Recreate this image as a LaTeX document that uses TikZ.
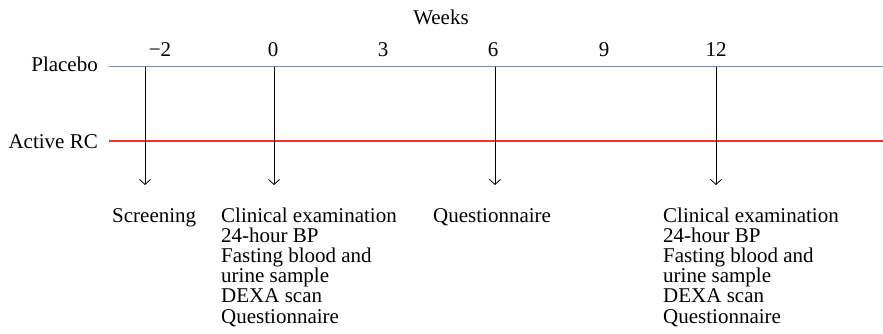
\documentclass[tikz,border=0pt]{standalone}
\usepackage{fontspec}
\setmainfont{Liberation Serif}
\usetikzlibrary{arrows.meta,positioning}
\definecolor{placeboBlue}{RGB}{98,142,204}
\definecolor{activeRed}{RGB}{238,48,48}

\begin{document}
\begin{tikzpicture}[x=1pt,y=-1pt,
  lbl/.style={font=\fontsize{21}{20.2}\selectfont, inner sep=0pt},
  tick/.style={lbl, anchor=base},
  group/.style={lbl, anchor=base east},
  visit/.style={lbl, anchor=base west, align=left},
  visitarrow/.style={black, line width=0.8pt, -{Straight Barb[length=5pt,width=11pt]}}]
\useasboundingbox (0,0) rectangle (883,334);
% header and weeks
\node[tick] (weeks) at (441,25) {Weeks};
\foreach \n/\t/\x in {m2/{−2}/160,0/0/273,3/3/383,6/6/493,9/9/604,12/12/716}
{
\node[tick] (t\n) at (\x,57) {\t};
}
% study arms
\node[group] (placebo) at (98,72) {Placebo};
\node[group] (active) at (98,148) {Active RC};
\coordinate (plcL) at (109,67);
\coordinate (plcR) at (883,67);
\coordinate (actL) at (109,141);
\coordinate (actR) at (883,141);
\draw[placeboBlue, line width=1pt] (plcL) -- (plcR);
\draw[activeRed, line width=1pt] (actL) -- (actR);
% visits
\foreach \v/\x in {a/145,b/274,c/495,d/716}
{
\coordinate (top\v) at (\x,67);
\coordinate (end\v) at (\x,185);
\draw[visitarrow] (top\v) -- (end\v);
}
% multi-line nodes sit on the baseline of their last line
\node[visit] (screen) at (112,222) {Screening};
\node[visit] (base) at (221,323) {Clinical examination\\24-hour BP\\Fasting blood and\\urine sample\\DEXA scan\\Questionnaire};
\node[visit] (quest) at (433,222) {Questionnaire};
\node[visit] (final) at (663,323) {Clinical examination\\24-hour BP\\Fasting blood and\\urine sample\\DEXA scan\\Questionnaire};
\end{tikzpicture}
\end{document}
